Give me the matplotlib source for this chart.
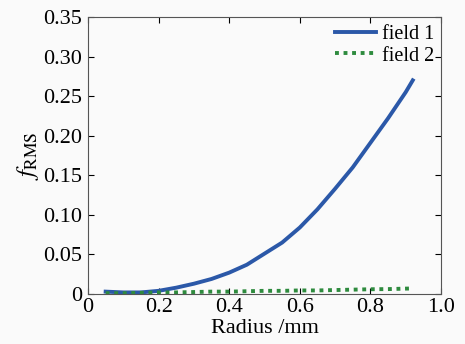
import numpy as np
import matplotlib
matplotlib.use('Agg')
import matplotlib.pyplot as plt

# datos
radio = [0.05, 0.10, 0.15, 0.20, 0.25, 0.30, 0.35, 0.40, 0.45, 0.50, 0.55,
         0.60, 0.65, 0.70, 0.75, 0.80, 0.85, 0.90, 0.92]
campo1 = [0.003, 0.002, 0.002, 0.004, 0.008, 0.013, 0.019, 0.027, 0.037, 0.051,
          0.065, 0.084, 0.107, 0.133, 0.160, 0.191, 0.222, 0.255, 0.270]
campo2 = [0.001, 0.001, 0.0015, 0.002, 0.002, 0.0025, 0.003, 0.003, 0.0035, 0.004,
          0.004, 0.0045, 0.0045, 0.005, 0.0055, 0.006, 0.0062, 0.0068, 0.007]

plt.rcParams['font.family'] = 'Liberation Serif'
plt.rcParams['mathtext.fontset'] = 'stix'

fig = plt.figure(figsize=(4.65, 3.44), dpi=100, facecolor='#fafafa')
ax = fig.add_axes([88/465, 1-294/344, 353/465, 277/344], facecolor='#fafafa')

ax.plot(radio, campo1, color='#2b58a8', lw=2.8, label='field 1')
ax.plot(radio, campo2, color='#2e8b3e', lw=2.8, ls=(0, (1, 1.2)), label='field 2')

ax.set_xlim(0, 1.0)
ax.set_ylim(0, 0.35)
ax.set_xticks([0, 0.2, 0.4, 0.6, 0.8, 1.0])
ax.set_xticklabels(['0', '0.2', '0.4', '0.6', '0.8', '1.0'])
ax.set_yticks(np.arange(0, 0.36, 0.05))
ax.set_yticklabels(['0', '0.05', '0.10', '0.15', '0.20', '0.25', '0.30', '0.35'])
ax.tick_params(direction='in', top=True, right=True, labelsize=16, length=4)
ax.tick_params(axis='x', pad=3)
ax.tick_params(axis='y', pad=4)
for s in ax.spines.values():
    s.set_color('#555555')

ax.set_xlabel('Radius /mm', fontsize=16, labelpad=1)
ax.set_ylabel(r'$f_{\rm RMS}$', fontsize=18, labelpad=2)

ax.legend(loc='upper right', bbox_to_anchor=(0.98, 0.97), frameon=False,
          fontsize=14.5, handlelength=2.0, handletextpad=0.3, labelspacing=0.1,
          borderaxespad=0.0, borderpad=0.0)

fig.savefig('out.png', dpi=100, facecolor=fig.get_facecolor())
